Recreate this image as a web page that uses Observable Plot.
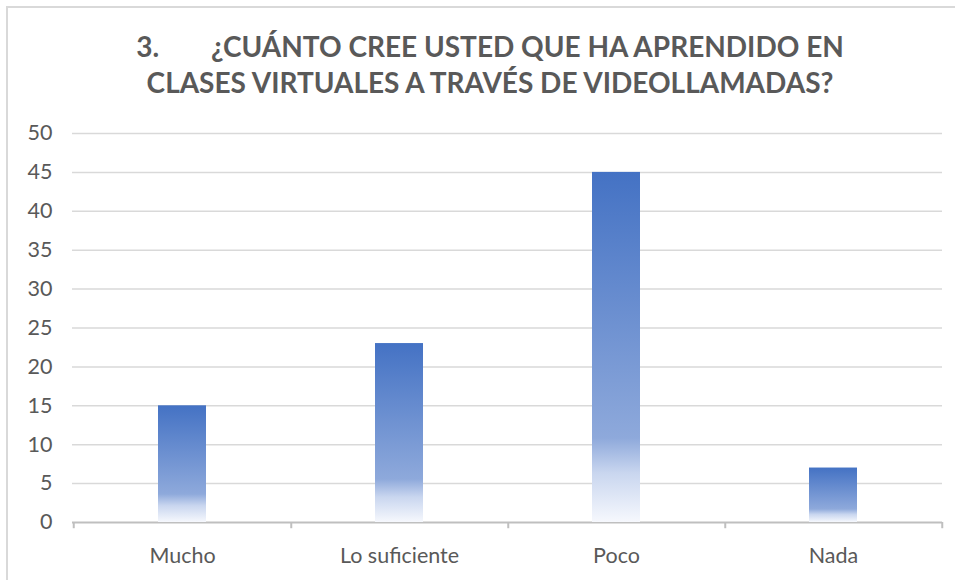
<!DOCTYPE html>
<html><head><meta charset="utf-8">
<script src="https://cdn.jsdelivr.net/npm/d3@7"></script>
<script src="https://cdn.jsdelivr.net/npm/@observablehq/plot@0.6"></script>
<style>
body{margin:0;background:#fff;width:955px;height:580px;overflow:hidden;position:relative;font-family:Lato,sans-serif}
#frame{position:absolute;left:6px;top:6px;width:1000px;height:600px;border-left:2px solid #d9d9d9;border-top:2px solid #d9d9d9}
#title{position:absolute;left:8px;top:28px;width:964px;text-align:center;font-weight:bold;font-size:28px;line-height:36px;color:#595959;white-space:nowrap}
#title .gap{display:inline-block;width:52px}
#chart{position:absolute;left:0;top:110px}
</style></head>
<body>
<div id="frame"></div>
<div id="title">3.<span class="gap"></span>¿CUÁNTO CREE USTED QUE HA APRENDIDO EN<br>CLASES VIRTUALES A TRAVÉS DE VIDEOLLAMADAS?</div>
<div id="chart"></div>
<script>
const categories = ["Mucho", "Lo suficiente", "Poco", "Nada"];
const values = [15, 23, 45, 7];
const yTicks = [0, 5, 10, 15, 20, 25, 30, 35, 40, 45, 50];

const data = categories.map((c, i) => ({category: c, value: values[i]}));
const W = 955, H = 470, mL = 72, mR = 13, mT = 23, mB = 58;
const step = (W - mL - mR) / categories.length;

const chart = Plot.plot({
  width: W, height: H,
  marginLeft: mL, marginRight: mR, marginTop: mT, marginBottom: mB,
  style: {fontFamily: "Lato, sans-serif", fontSize: "21.5px", color: "#595959", background: "transparent"},
  x: {domain: categories, paddingInner: 0.78, paddingOuter: 0.39, label: null, tickSize: 0, tickPadding: 25},
  y: {domain: [0, 50], ticks: yTicks, label: null, tickSize: 0, tickPadding: 20},
  marks: [
    Plot.ruleY(yTicks.filter(t => t > 0), {stroke: "#d9d9d9", strokeWidth: 1.5}),
    Plot.ruleY([0], {stroke: "#bfbfbf", strokeWidth: 2}),
    Plot.ruleX(categories, {x: d => d, dx: step / 2, y1: 0, y2: -0.8, stroke: "#bfbfbf", strokeWidth: 2}),
    Plot.ruleX([categories[0]], {x: d => d, dx: -step / 2, y1: 0, y2: -0.8, stroke: "#bfbfbf", strokeWidth: 2}),
    Plot.barY(data, {x: "category", y: "value", fill: "url(#barGrad)"})
  ]
});

const ns = "http://www.w3.org/2000/svg";
const defs = document.createElementNS(ns, "defs");
defs.innerHTML = `<linearGradient id="barGrad" x1="0" y1="0" x2="0" y2="1">
  <stop offset="0" stop-color="#4472C4"/>
  <stop offset="0.76" stop-color="#8EA9DB"/>
  <stop offset="0.86" stop-color="#C9D6EF"/>
  <stop offset="1" stop-color="#F6F8FD"/>
</linearGradient>`;
chart.insertBefore(defs, chart.firstChild);
document.getElementById("chart").appendChild(chart);
</script>
</body></html>
